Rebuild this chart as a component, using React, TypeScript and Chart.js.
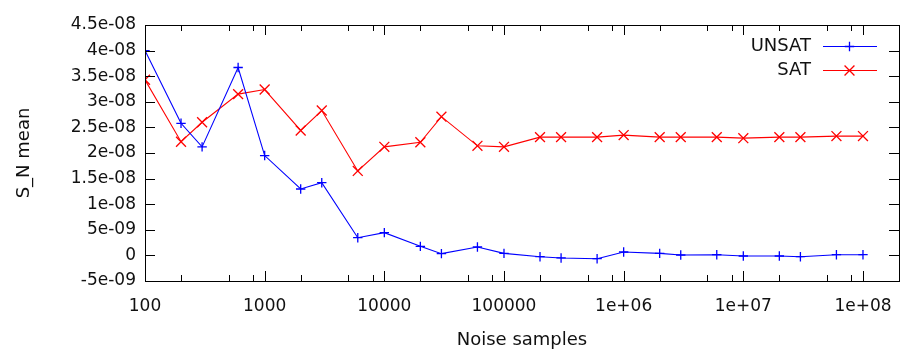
import React, { useEffect, useRef } from "react";
import { Chart, registerables } from "chart.js";

Chart.register(...registerables);

const noiseSamples = [
  100, 200, 300, 600, 1000, 2000, 3000, 6000, 10000, 20000, 30000, 60000,
  100000, 200000, 300000, 600000, 1e6, 2e6, 3e6, 6e6, 1e7, 2e7, 3e7, 6e7, 1e8,
];
const unsatMean = [
  4.0e-8, 2.58e-8, 2.12e-8, 3.67e-8, 1.95e-8, 1.297e-8, 1.42e-8, 3.46e-9,
  4.44e-9, 1.77e-9, 3.4e-10, 1.64e-9, 4.0e-10, -2.5e-10, -5.0e-10, -6.4e-10,
  6.6e-10, 4.0e-10, 8e-11, 1.4e-10, -1.2e-10, -1.2e-10, -2.5e-10, 1.4e-10,
  1.4e-10,
];
const satMean = [
  3.43e-8, 2.22e-8, 2.6e-8, 3.15e-8, 3.24e-8, 2.44e-8, 2.83e-8, 1.65e-8,
  2.12e-8, 2.21e-8, 2.71e-8, 2.14e-8, 2.12e-8, 2.31e-8, 2.31e-8, 2.31e-8,
  2.35e-8, 2.31e-8, 2.31e-8, 2.31e-8, 2.29e-8, 2.31e-8, 2.31e-8, 2.33e-8,
  2.33e-8,
];
const seriesLabels = ["UNSAT", "SAT"];

const xMajorTicks = [100, 1000, 10000, 100000, 1e6, 1e7, 1e8];
const xTickLabels = ["100", "1000", "10000", "100000", "1e+06", "1e+07", "1e+08"];
const xMinorMultipliers = [2, 5, 8];
const xMin = 100;
const xMax = 2e8;

const yTickValues = [
  -5e-9, 0, 5e-9, 1e-8, 1.5e-8, 2e-8, 2.5e-8, 3e-8, 3.5e-8, 4e-8, 4.5e-8,
];
const yTickLabels = [
  "-5e-09", "0", "5e-09", "1e-08", "1.5e-08", "2e-08", "2.5e-08", "3e-08",
  "3.5e-08", "4e-08", "4.5e-08",
];

const FONT = '"DejaVu Sans", sans-serif';
const TEXT = "#111";

function drawMarker(ctx: CanvasRenderingContext2D, style: string, x: number, y: number, r: number) {
  ctx.beginPath();
  if (style === "cross") {
    ctx.moveTo(x - r, y);
    ctx.lineTo(x + r, y);
    ctx.moveTo(x, y - r);
    ctx.lineTo(x, y + r);
  } else {
    const d = r * Math.SQRT1_2;
    ctx.moveTo(x - d, y - d);
    ctx.lineTo(x + d, y + d);
    ctx.moveTo(x - d, y + d);
    ctx.lineTo(x + d, y - d);
  }
  ctx.stroke();
}

const gnuplotDecor = {
  id: "gnuplotDecor",
  afterDraw(chart: any) {
    const { ctx, chartArea, scales } = chart;
    const { left, right, top, bottom } = chartArea;
    const xs = scales.x;
    const ys = scales.y;
    ctx.save();
    ctx.strokeStyle = "#000";
    ctx.lineWidth = 1;
    ctx.beginPath();
    const vline = (v: number, len: number) => {
      const px = Math.round(xs.getPixelForValue(v)) + 0.5;
      ctx.moveTo(px, bottom);
      ctx.lineTo(px, bottom - len);
      ctx.moveTo(px, top);
      ctx.lineTo(px, top + len);
    };
    for (const v of xMajorTicks) {
      vline(v, 10);
      for (const m of xMinorMultipliers) {
        const mv = v * m;
        if (mv < xMax) vline(mv, 6);
      }
    }
    for (const v of yTickValues) {
      const py = Math.round(ys.getPixelForValue(v)) + 0.5;
      ctx.moveTo(left, py);
      ctx.lineTo(left + 10, py);
      ctx.moveTo(right, py);
      ctx.lineTo(right - 10, py);
    }
    ctx.stroke();
    ctx.strokeRect(Math.round(left) + 0.5, Math.round(top) + 0.5, Math.round(right - left), Math.round(bottom - top));

    // legend
    ctx.font = `18px ${FONT}`;
    ctx.textAlign = "right";
    ctx.textBaseline = "middle";
    chart.data.datasets.forEach((ds: any, i: number) => {
      const yy = 46.5 + i * 24;
      ctx.fillStyle = TEXT;
      ctx.fillText(ds.label, 811, yy);
      ctx.strokeStyle = ds.borderColor;
      ctx.lineWidth = 1;
      ctx.beginPath();
      ctx.moveTo(823, yy);
      ctx.lineTo(877, yy);
      ctx.stroke();
      ctx.lineWidth = ds.pointBorderWidth;
      drawMarker(ctx, ds.pointStyle, 849.5, yy, ds.pointRadius);
    });
    ctx.restore();
  },
};

export default function App() {
  const ref = useRef<HTMLCanvasElement | null>(null);
  useEffect(() => {
    if (!ref.current) return;
    const chart = new Chart(ref.current, {
      type: "line",
      data: {
        datasets: [
          {
            label: seriesLabels[0],
            data: noiseSamples.map((x, i) => ({ x, y: unsatMean[i] })),
            borderColor: "#0000ff",
            backgroundColor: "#0000ff",
            borderWidth: 1.1,
            pointStyle: "cross",
            pointRadius: 4.7,
            pointBorderWidth: 1.3,
            pointBorderColor: "#0000ff",
            fill: false,
            tension: 0,
          },
          {
            label: seriesLabels[1],
            data: noiseSamples.map((x, i) => ({ x, y: satMean[i] })),
            borderColor: "#ff0000",
            backgroundColor: "#ff0000",
            borderWidth: 1.1,
            pointStyle: "crossRot",
            pointRadius: 7,
            pointBorderWidth: 1.3,
            pointBorderColor: "#ff0000",
            fill: false,
            tension: 0,
          },
        ],
      },
      options: {
        animation: false,
        responsive: false,
        devicePixelRatio: 1,
        layout: { padding: { top: 25, right: 23, left: 0, bottom: 0 } },
        plugins: { legend: { display: false }, tooltip: { enabled: false } },
        scales: {
          x: {
            type: "logarithmic",
            min: xMin,
            max: xMax,
            grid: { display: false, drawTicks: false },
            border: { display: false },
            afterBuildTicks: (s: any) => {
              s.ticks = xMajorTicks.map((v) => ({ value: v }));
            },
            afterFit: (s: any) => {
              s.height = 75;
            },
            ticks: {
              autoSkip: false,
              maxRotation: 0,
              padding: 15.5,
              color: TEXT,
              font: { family: FONT, size: 17 },
              callback: (v: any) => xTickLabels[xMajorTicks.indexOf(Number(v))],
            },
            title: {
              display: true,
              text: "Noise samples",
              color: TEXT,
              font: { family: FONT, size: 18 },
              padding: { top: 0, bottom: 4.5 },
            },
          },
          y: {
            type: "linear",
            min: -5e-9,
            max: 4.5e-8,
            grid: { display: false, drawTicks: false },
            border: { display: false },
            afterBuildTicks: (s: any) => {
              s.ticks = yTickValues.map((v) => ({ value: v }));
            },
            afterFit: (s: any) => {
              s.width = 145;
            },
            ticks: {
              autoSkip: false,
              padding: 9,
              color: TEXT,
              font: { family: FONT, size: 17 },
              callback: (_v: any, i: number) => yTickLabels[i],
            },
            title: {
              display: true,
              text: "S_N mean",
              color: TEXT,
              font: { family: FONT, size: 18 },
              padding: { top: 13.5, bottom: 0 },
            },
          },
        },
      },
      plugins: [gnuplotDecor],
    } as any);
    return () => chart.destroy();
  }, []);
  return (
    <div style={{ position: "absolute", left: 0, top: 0, width: 922, height: 356, background: "#fff" }}>
      <canvas ref={ref} width={922} height={356} style={{ display: "block" }} />
    </div>
  );
}
